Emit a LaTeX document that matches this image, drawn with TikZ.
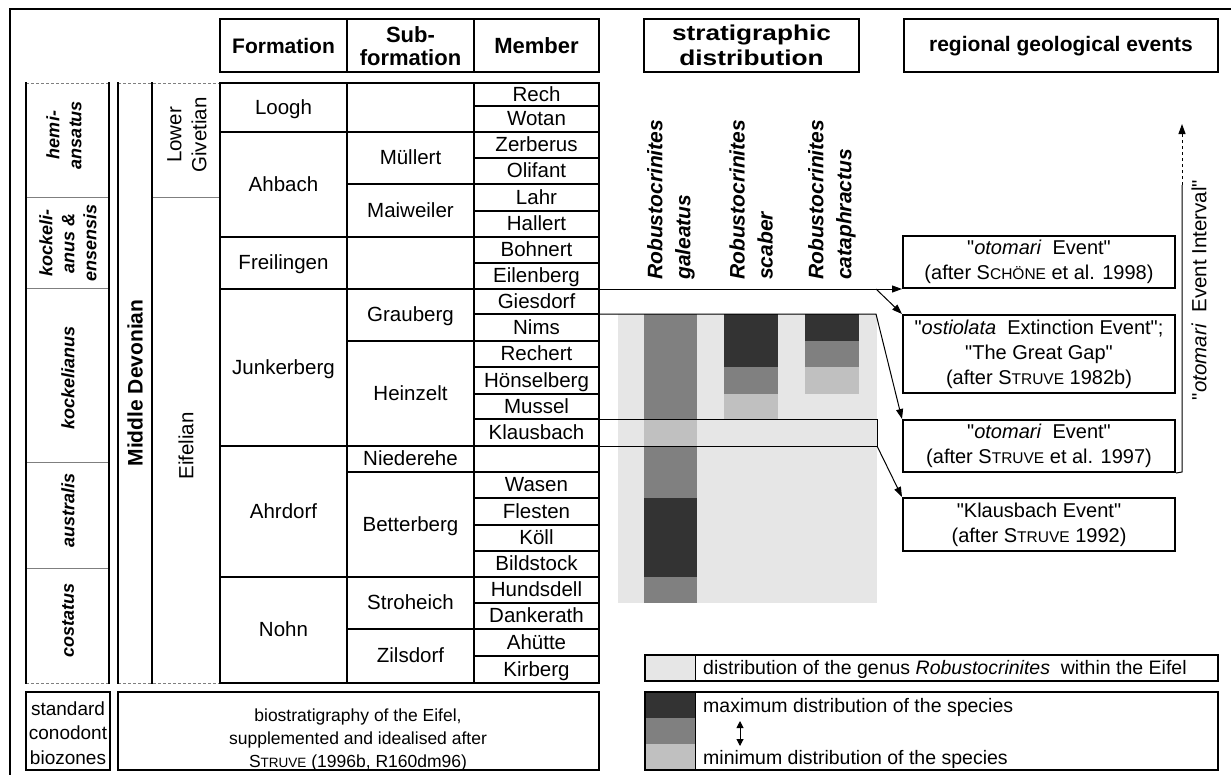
\documentclass[tikz,border=0pt]{standalone}
\usepackage{fontspec}
\usepackage{graphicx}
\setmainfont{Liberation Sans}[Ligatures=TeXOff]
\usetikzlibrary{arrows.meta}
\definecolor{dk}{HTML}{333333}
\definecolor{md}{HTML}{808080}
\definecolor{lt}{HTML}{C0C0C0}
\definecolor{dt}{HTML}{E6E6E6}
\definecolor{gr}{HTML}{7F7F7F}
\newcommand\smc[3][15.5]{#2{\fontsize{#1}{#1}\selectfont #3}}
\newcommand\hstr[2]{\scalebox{#1}[1]{#2}}
\tikzset{
 bl/.style={line width=2pt, line cap=rect},
 tn/.style={line width=1pt},
 gl/.style={line width=1pt, draw=gr},
 dsh/.style={line width=1pt, draw=gr, dash pattern=on 3pt off 2pt},
 tip/.style={-{Triangle[length=10pt,width=7pt]}},
 tx/.style={inner sep=0pt, font=\fontsize{20.5}{24}\selectfont, text height=15pt, text depth=1.5pt},
 mx/.style={inner sep=0pt, align=center, font=\fontsize{20.5}{25}\selectfont},
 hd/.style={inner sep=0pt, align=center, font=\fontsize{21}{24}\selectfont\bfseries},
 zn/.style={inner sep=0pt, align=center, rotate=90, font=\fontsize{18}{22}\selectfont\bfseries\itshape},
 sp/.style={inner sep=0pt, align=left, rotate=90, anchor=west, font=\fontsize{21}{28}\selectfont\bfseries\itshape},
 ev/.style={draw, line width=2pt, minimum width=272pt, inner sep=0pt, align=center, font=\fontsize{20}{25}\selectfont},
 lg/.style={inner sep=0pt, anchor=west, font=\fontsize{19.5}{22}\selectfont, text height=14pt, text depth=1.5pt},
}
\begin{document}
\begin{tikzpicture}[x=1pt,y=-1pt]
\useasboundingbox (0,0) rectangle (1231,774);
% outer frame
\draw[bl] (9.5,774) -- (9.5,8.5) -- (1231,8.5);

% header boxes
\draw[bl] (220,19) rectangle (599,72);
\draw[bl] (347,19) -- (347,72) (474,19) -- (474,72);
\draw[bl] (644,19) rectangle (859,72);
\draw[bl] (904,19) rectangle (1218,72);
\node[hd] (hF) at (283.5,46) {Formation};
\node[hd, font=\fontsize{22}{23}\selectfont\bfseries] (hS) at (410.5,46) {Sub-\\formation};
\node[hd, font=\fontsize{22}{23}\selectfont\bfseries] (hM) at (536.5,46) {Member};
\node[hd, font=\fontsize{21.5}{25}\selectfont\bfseries] (hD) at (751.5,45) {\hstr{1.22}{stratigraphic}\\\hstr{1.22}{distribution}};
\node[hd] (hR) at (1061,46) {regional geological events};

% stratigraphic distribution area
\fill[dt] (618,314) rectangle (877,603);
\fill[md] (644,314) rectangle (697,419);
\fill[lt] (644,419) rectangle (697,446);
\fill[md] (644,446) rectangle (697,498);
\fill[dk] (644,498) rectangle (697,577);
\fill[md] (644,577) rectangle (697,603);
\fill[dk] (724,314) rectangle (778,367);
\fill[md] (724,367) rectangle (778,394);
\fill[lt] (724,394) rectangle (778,419);
\fill[dk] (805,314) rectangle (859,341);
\fill[md] (805,341) rectangle (859,367);
\fill[lt] (805,367) rectangle (859,394);

% left columns
\draw[dsh] (26,83) -- (109,83) (118,83) -- (220,83) (26,683) -- (109,683) (118,683) -- (220,683);
\foreach \y in {197,288,462,568} \draw[gl] (26,\y) -- (109,\y);
\draw[gl] (152,197) -- (220,197);
\draw[bl] (26,83) -- (26,683) (109,83) -- (109,683) (118,83) -- (118,683) (152,83) -- (152,683);

% main table
\foreach \y in {106,132,158,184,211,237,263,289,314,341,367,394,419,446,472,498,525,551,577,603,629,656}
  \draw[bl] (474,\y) -- (599,\y);
\foreach \y in {132,237,289,446,577} \draw[bl] (220,\y) -- (347,\y);
\foreach \y in {132,184,237,289,341,446,472,577,629} \draw[bl] (347,\y) -- (474,\y);
\draw[bl] (347,83) -- (347,683) (474,83) -- (474,683);
\draw[bl] (220,83) rectangle (599,683);

% zone texts
\node[zn] (z1) at (64,135) {hemi-\\ansatus};
\node[zn] (z2) at (68,243) {kockeli-\\anus \&\\ensensis};
\node[zn] (z3) at (68,378) {kockelianus};
\node[zn] (z4) at (68,510) {australis};
\node[zn] (z5) at (68,620) {costatus};
\node[hd, rotate=90] (md) at (135,383) {Middle Devonian};
\node[mx, rotate=90] (lg) at (187,135) {Lower\\Givetian};
\node[mx, rotate=90] (ei) at (186,446) {Eifelian};

% formations
\foreach \n/\c [count=\i] in {Loogh/107.5, Ahbach/184.5, Freilingen/263, Junkerberg/367.5, Ahrdorf/511.5, Nohn/630}
  \node[tx] (f\i) at (283.5,\c) {\n};
\foreach \n/\c [count=\i] in {M\"ullert/158, Maiweiler/210.5, Grauberg/315, Heinzelt/393.5, Niederehe/459, Betterberg/524.5, Stroheich/603, Zilsdorf/656}
  \node[tx] (s\i) at (410.5,\c) {\n};
\foreach \n/\c [count=\i] in {Rech/94.5, Wotan/119, Zerberus/145, Olifant/171, Lahr/197.5, Hallert/224, Bohnert/250, Eilenberg/276, Giesdorf/301.5, Nims/327.5, Rechert/354, H\"onselberg/380.5, Mussel/406.5, Klausbach/432.5, Wasen/485, Flesten/511.5, K\"oll/538, Bildstock/564, Hundsdell/590, Dankerath/616, Ah\"utte/642.5, Kirberg/669.5}
  \node[tx] (m\i) at (536.5,\c) {\n};

% species labels
\node[sp] (sp1) at (671,280) {Robustocrinites\\galeatus};
\node[sp] (sp2) at (751,280) {Robustocrinites\\scaber};
\node[sp] (sp3) at (832,280) {Robustocrinites\\cataphractus};

% events
\node[ev, minimum height=52pt] (ev1) at (1039,262) {"\textit{otomari}~ Event"\\(after \smc{S}{CH\"ONE} et al. 1998)};
\node[ev, minimum height=78pt] (ev2) at (1039,354) {"\textit{ostiolata}~ Extinction Event";\\"The Great Gap"\\(after \smc{S}{TRUVE} 1982b)};
\node[ev, minimum height=52pt] (ev3) at (1039,446) {"\textit{otomari}~ Event"\\(after \smc{S}{TRUVE} et al. 1997)};
\node[ev, minimum height=53pt] (ev4) at (1039,524.5) {"Klausbach Event"\\(after \smc{S}{TRUVE} 1992)};

% connectors
\coordinate (a0) at (599,289);
\coordinate (a1) at (876,289);
\coordinate (b0) at (599,314);
\coordinate (b1) at (876,314);
\coordinate (k0) at (599,419);
\coordinate (k1) at (877,446);
\draw[tn, tip] (a0) -- (ev1.south west);
\draw[tn, tip] (a1) -- (ev2.north west);
\draw[tn, tip] (b0) -- (b1) -- (ev3.north west);
\draw[tn] (k0) rectangle (k1);
\draw[tn, tip] (k1) -- (ev4.north west);

% interval arrow
\coordinate (i1) at (1182,472);
\coordinate (i2) at (1182,185);
\coordinate (i3) at (1182,124);
\draw[tn] (ev3.south east) -- (i1) -- (i2);
\draw[tn, dashed, tip] (i2) -- (i3);
\node[inner sep=0pt, rotate=90, font=\fontsize{20.5}{24}\selectfont] (iv) at (1199,290) {"\textit{otomari}~ Event Interval"};

% bottom boxes
\draw[bl] (26,692) rectangle (110,770);
\node[mx, font=\fontsize{19}{24.5}\selectfont] (bz) at (68,733) {standard\\conodont\\biozones};
\draw[bl] (118,692) rectangle (599,770);
\node[mx, font=\fontsize{17.5}{23}\selectfont] (bs) at (358,740) {biostratigraphy of the Eifel,\\supplemented and idealised after\\\smc[13.5]{S}{TRUVE} (1996b, R160dm96)};

% legend
\fill[dt] (645,655) rectangle (695,681);
\draw[bl] (645,655) rectangle (1218,681);
\draw[tn] (695,655) -- (695,681);
\node[lg] (l1) at (703,668) {distribution of the genus \textit{Robustocrinites}~ within the Eifel};
\fill[dk] (645,692) rectangle (695,718);
\fill[md] (645,718) rectangle (695,744);
\fill[lt] (645,744) rectangle (695,770);
\draw[bl] (645,692) rectangle (1218,770);
\draw[tn] (695,692) -- (695,770);
\node[lg] (l2) at (703,706) {maximum distribution of the species};
\node[lg] (l3) at (703,758) {minimum distribution of the species};
\coordinate (d1) at (740,721);
\coordinate (d2) at (740,746);
\draw[tn, {Triangle[length=7pt,width=7pt]}-{Triangle[length=7pt,width=7pt]}] (d1) -- (d2);
\end{tikzpicture}
\end{document}
